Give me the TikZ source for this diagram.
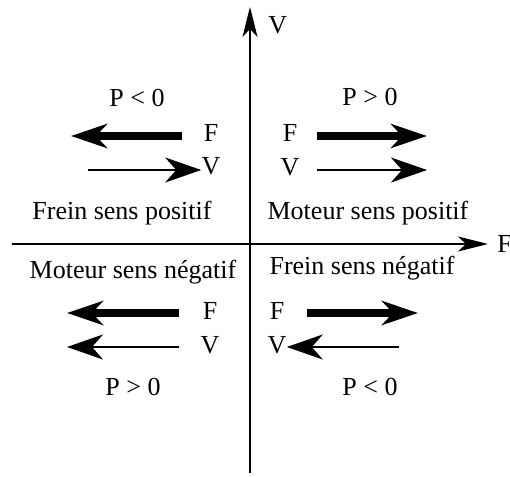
\documentclass[tikz,border=0pt]{standalone}
\usepackage{fontspec}
\setmainfont{Liberation Serif}
\usetikzlibrary{arrows.meta}

\begin{document}
\begin{tikzpicture}[
 x=0.5pt,y=0.5pt,
 lbl/.style={font=\fontsize{13}{15}\selectfont,inner sep=0pt},
 axis/.style={line width=1pt,-{Stealth[length=15pt,width=7.5pt,inset=4pt]}},
 vel/.style={line width=1pt,-{Stealth[length=18pt,width=12.5pt,inset=5.5pt]}},
 force/.style={line width=4pt,-{Stealth[length=18pt,width=12pt,inset=5.5pt]}}
]
\useasboundingbox (-250,-233) rectangle (260,244);

% Axes.
\coordinate (axS) at (0,-229);
\coordinate (axN) at (0,237);
\coordinate (axW) at (-238,0);
\coordinate (axE) at (238,0);
\draw[axis] (axS) -- (axN);
\draw[axis] (axW) -- (axE);
\node[lbl,anchor=west] (axV) at (18,219) {V};
\node[lbl,anchor=west] (axF) at (247,0) {F};

% Upper left: braking, positive direction.
\node[lbl] (ulP) at (-113,146) {P < 0};
\node[lbl] (ulF) at (-39,111) {F};
\node[lbl] (ulV) at (-39,78) {V};
\coordinate (ulFs) at (-68,108);
\coordinate (ulFt) at (-179,108);
\coordinate (ulVs) at (-162,74);
\draw[force] (ulFs) -- (ulFt);
\draw[vel] (ulVs) -- (ulV.west|-ulVs);
\node[lbl] (ulT) at (-128,31) {Frein sens positif};

% Upper right: motor, positive direction.
\node[lbl] (urP) at (120,147) {P > 0};
\node[lbl] (urF) at (40,111) {F};
\node[lbl] (urV) at (40,77) {V};
\coordinate (urFs) at (67,108);
\coordinate (urFt) at (177,108);
\coordinate (urVs) at (67,74);
\coordinate (urVt) at (177,74);
\draw[force] (urFs) -- (urFt);
\draw[vel] (urVs) -- (urVt);
\node[lbl] (urT) at (118,31) {Moteur sens positif};

% Lower left: motor, negative direction.
\node[lbl] (llT) at (-117,-28) {Moteur sens négatif};
\node[lbl] (llF) at (-40,-67) {F};
\node[lbl] (llV) at (-40,-101) {V};
\coordinate (llFs) at (-71,-69);
\coordinate (llFt) at (-183,-69);
\coordinate (llVs) at (-71,-103);
\coordinate (llVt) at (-183,-103);
\draw[force] (llFs) -- (llFt);
\draw[vel] (llVs) -- (llVt);
\node[lbl] (llP) at (-117,-143) {P > 0};

% Lower right: braking, negative direction.
\node[lbl] (lrT) at (112,-24) {Frein sens négatif};
\node[lbl] (lrF) at (27,-67) {F};
\node[lbl] (lrV) at (27,-101) {V};
\coordinate (lrFs) at (57,-69);
\coordinate (lrFt) at (168,-69);
\coordinate (lrVs) at (149,-103);
\draw[force] (lrFs) -- (lrFt);
\draw[vel] (lrVs) -- (lrV.east|-lrVs);
\node[lbl] (lrP) at (120,-143) {P < 0};
\end{tikzpicture}
\end{document}
